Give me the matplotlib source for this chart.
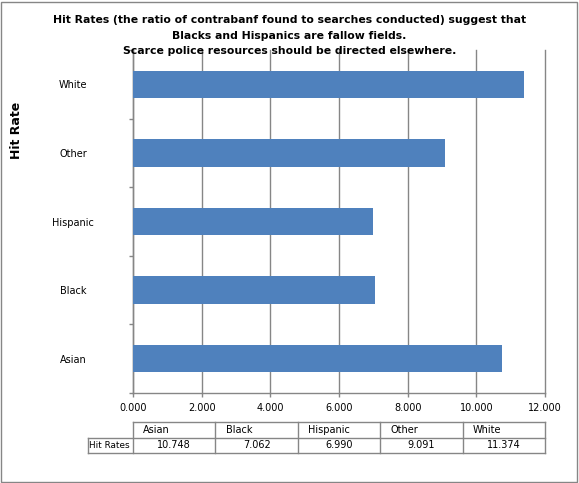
import numpy as np
import matplotlib.pyplot as plt
from matplotlib.patches import Rectangle

categories = ["Asian", "Black", "Hispanic", "Other", "White"]
hit_rates = [10.748, 7.062, 6.990, 9.091, 11.374]
x_ticks = [0, 2, 4, 6, 8, 10, 12]
row_name = "Hit Rates"
title = ("Hit Rates (the ratio of contrabanf found to searches conducted) suggest that\n"
         "Blacks and Hispanics are fallow fields.\n"
         "Scarce police resources should be directed elsewhere.")

W, H = 579, 483
grey = "#868686"
plt.rcParams['font.family'] = ['DejaVu Sans']

fig = plt.figure(figsize=(W / 100, H / 100), dpi=100)
fig.patches.append(Rectangle((1 / W, 1 / H), 1 - 3 / W, 1 - 3 / H, transform=fig.transFigure,
                             fill=False, edgecolor=grey, linewidth=1))

# main bar axes
ax = fig.add_axes([133 / W, (H - 393) / H, (545 - 133) / W, (393 - 50) / H])
y = np.arange(len(categories))
ax.barh(y, hit_rates, height=0.4, color="#4F81BD", zorder=3)
ax.set_xlim(0, 12)
ax.set_ylim(-0.5, len(categories) - 0.5)
ax.set_xticks(x_ticks)
ax.set_xticklabels([f"{v:.3f}" for v in x_ticks], fontsize=7)
ax.set_yticks(y)
ax.set_yticklabels(categories, fontsize=7, ha="center")
ax.set_yticks(np.arange(-0.5, len(categories)), minor=True)
ax.tick_params(axis="y", which="major", length=0, pad=43)
ax.tick_params(axis="y", which="minor", length=3, color=grey, width=1)
ax.tick_params(axis="x", length=3, color=grey, width=1, pad=4)
ax.grid(axis="x", color=grey, linewidth=1, zorder=0)
for gl in ax.get_xgridlines():
    gl.set_clip_on(False)
for s in ["top", "right"]:
    ax.spines[s].set_visible(False)
for s in ["left", "bottom"]:
    ax.spines[s].set_color(grey)
    ax.spines[s].set_linewidth(1)

fig.text(0.5, (H - 15) / H, title, ha="center", va="top", fontsize=7.8,
         fontweight="bold", linespacing=1.7, zorder=5)
fig.text(16 / W, (H - 130) / H, "Hit Rate", rotation=90, ha="center", va="center",
         fontsize=9, fontweight="bold")

# data table under the chart, columns share the x scale
tax = fig.add_axes([88 / W, (H - 453) / H, (545 - 88) / W, (453 - 422) / H])
tax.set_xlim(-45 / 412 * 12, 12)
tax.set_ylim(0, 2)
tax.axis("off")
edges = np.linspace(0, 12, len(categories) + 1)
lx = tax.get_xlim()[0]
kw = dict(color=grey, linewidth=1, clip_on=False)
tax.plot([edges[0], edges[-1]], [2, 2], **kw)
tax.plot([lx, edges[-1]], [1, 1], **kw)
tax.plot([lx, edges[-1]], [0, 0], **kw)
tax.plot([lx, lx], [0, 1], **kw)
for e in edges:
    tax.plot([e, e], [0, 2], **kw)
for i, (c, v) in enumerate(zip(categories, hit_rates)):
    tax.text(edges[i] + 0.3, 1.5, c, ha="left", va="center", fontsize=7)
    tax.text((edges[i] + edges[i + 1]) / 2, 0.5, f"{v:.3f}", ha="center", va="center", fontsize=7)
tax.text(lx + 0.04, 0.5, row_name, ha="left", va="center", fontsize=6.4)

fig.savefig("out.png", dpi=100)
